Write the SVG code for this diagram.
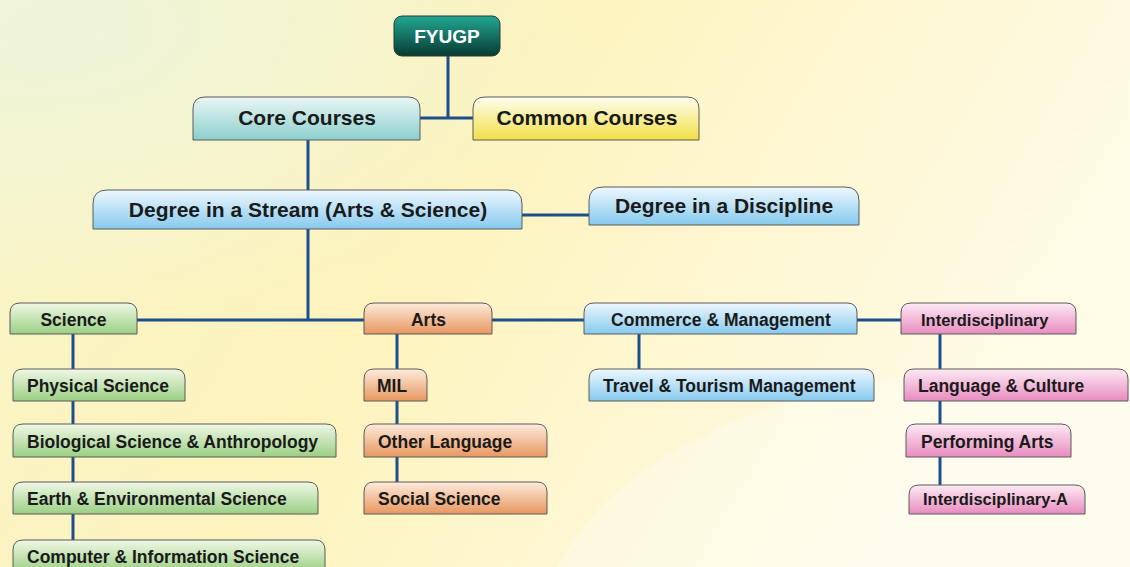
<svg xmlns="http://www.w3.org/2000/svg" width="1130" height="567" viewBox="0 0 1130 567">
<defs>
<linearGradient id="bg" x1="0" y1="0" x2="1" y2="0.3">
<stop offset="0" stop-color="#f8f5c8"/><stop offset="0.45" stop-color="#fdf3bd"/><stop offset="1" stop-color="#fefbe6"/>
</linearGradient>
<radialGradient id="bgTL" cx="0.05" cy="0.05" r="0.5">
<stop offset="0" stop-color="#eef5dc" stop-opacity="0.9"/><stop offset="1" stop-color="#eef5dc" stop-opacity="0"/>
</radialGradient>
<linearGradient id="gTeal" x1="0" y1="0" x2="0" y2="1"><stop offset="0" stop-color="#22a893"/><stop offset="1" stop-color="#083a31"/></linearGradient>
<linearGradient id="gCore" x1="0" y1="0" x2="0" y2="1"><stop offset="0" stop-color="#e9f7f5"/><stop offset="1" stop-color="#8ccfcd"/></linearGradient>
<linearGradient id="gYel" x1="0" y1="0" x2="0" y2="1"><stop offset="0" stop-color="#fffdf0"/><stop offset="1" stop-color="#f1e046"/></linearGradient>
<linearGradient id="gBlue" x1="0" y1="0" x2="0" y2="1"><stop offset="0" stop-color="#eef8fe"/><stop offset="1" stop-color="#86c9ee"/></linearGradient>
<linearGradient id="gGreen" x1="0" y1="0" x2="0" y2="1"><stop offset="0" stop-color="#f0f8e6"/><stop offset="1" stop-color="#9bcf84"/></linearGradient>
<linearGradient id="gOrange" x1="0" y1="0" x2="0" y2="1"><stop offset="0" stop-color="#fdebdc"/><stop offset="1" stop-color="#e8975f"/></linearGradient>
<linearGradient id="gPink" x1="0" y1="0" x2="0" y2="1"><stop offset="0" stop-color="#fdeaf4"/><stop offset="1" stop-color="#e88cbf"/></linearGradient>
</defs>
<style>
.ln{stroke:#1d4f8c;stroke-width:3;fill:none}
.bx{stroke:#5a5a5a;stroke-width:1}
.tb{font-family:"Liberation Sans",Arial,sans-serif;font-weight:bold;font-size:21px;fill:#1a1a1a}
.ts{font-family:"Liberation Sans",Arial,sans-serif;font-weight:bold;font-size:17.5px;fill:#1a1a1a}
.c{text-anchor:middle}
</style>
<rect width="1130" height="567" fill="url(#bg)"/>
<rect width="1130" height="567" fill="url(#bgTL)"/>
<ellipse cx="1010" cy="640" rx="470" ry="270" fill="#ffffff" opacity="0.3"/>
<g id="connectors">
<path class="ln" d="M448 56V118M420 118H473"/>
<path class="ln" d="M308 140V190"/>
<path class="ln" d="M522 215H589"/>
<path class="ln" d="M308 229V320M137 320H364M492 320H584M857 320H901"/>
<path class="ln" d="M73 334V540"/>
<path class="ln" d="M397 334V482"/>
<path class="ln" d="M639 334V369"/>
<path class="ln" d="M940 334V485"/>
</g>
<g id="fyugp"><rect x="394" y="16" width="106" height="40" rx="8" fill="url(#gTeal)" stroke="#2a3a36" stroke-width="1"/><text x="447" y="43" class="tb c" style="fill:#ffffff;font-size:19px">FYUGP</text></g>
<g id="core"><path class="bx" fill="url(#gCore)" d="M193 140V109Q193 97 205 97H408Q420 97 420 109V140Z"/><text x="307" y="125" class="tb c">Core Courses</text></g>
<g id="common"><path class="bx" fill="url(#gYel)" d="M473 140V109Q473 97 485 97H687Q699 97 699 109V140Z"/><text x="587" y="125" class="tb c">Common Courses</text></g>
<g id="stream"><path class="bx" fill="url(#gBlue)" d="M93 229V204Q93 190 107 190H508Q522 190 522 204V229Z"/><text x="308" y="217" class="tb c">Degree in a Stream (Arts &amp; Science)</text></g>
<g id="discipline"><path class="bx" fill="url(#gBlue)" d="M589 225V201Q589 187 603 187H845Q859 187 859 201V225Z"/><text x="724" y="213" class="tb c">Degree in a Discipline</text></g>
<g id="science"><path class="bx" fill="url(#gGreen)" d="M10 334V313Q10 303 20 303H127Q137 303 137 313V334Z"/><text x="73.5" y="326" class="ts c">Science</text></g>
<g id="physical"><path class="bx" fill="url(#gGreen)" d="M13 401V379Q13 369 23 369H175Q185 369 185 379V401Z"/><text x="27" y="392" class="ts">Physical Science</text></g>
<g id="biological"><path class="bx" fill="url(#gGreen)" d="M13 457V434Q13 424 23 424H326Q336 424 336 434V457Z"/><text x="27" y="448" class="ts">Biological Science &amp; Anthropology</text></g>
<g id="earth"><path class="bx" fill="url(#gGreen)" d="M13 514V492Q13 482 23 482H308Q318 482 318 492V514Z"/><text x="27" y="505" class="ts">Earth &amp; Environmental Science</text></g>
<g id="computer"><path class="bx" fill="url(#gGreen)" d="M13 572V550Q13 540 23 540H315Q325 540 325 550V572Z"/><text x="27" y="563" class="ts">Computer &amp; Information Science</text></g>
<g id="arts"><path class="bx" fill="url(#gOrange)" d="M364 334V313Q364 303 374 303H482Q492 303 492 313V334Z"/><text x="428.5" y="326" class="ts c">Arts</text></g>
<g id="mil"><path class="bx" fill="url(#gOrange)" d="M364 401V379Q364 369 374 369H417Q427 369 427 379V401Z"/><text x="377" y="392" class="ts">MIL</text></g>
<g id="otherlang"><path class="bx" fill="url(#gOrange)" d="M364 457V434Q364 424 374 424H537Q547 424 547 434V457Z"/><text x="378" y="448" class="ts">Other Language</text></g>
<g id="social"><path class="bx" fill="url(#gOrange)" d="M364 514V492Q364 482 374 482H537Q547 482 547 492V514Z"/><text x="378" y="505" class="ts">Social Science</text></g>
<g id="commerce"><path class="bx" fill="url(#gBlue)" d="M584 334V313Q584 303 594 303H847Q857 303 857 313V334Z"/><text x="721" y="326" class="ts c">Commerce &amp; Management</text></g>
<g id="travel"><path class="bx" fill="url(#gBlue)" d="M589 401V379Q589 369 599 369H864Q874 369 874 379V401Z"/><text x="603" y="392" class="ts">Travel &amp; Tourism Management</text></g>
<g id="interdisciplinary"><path class="bx" fill="url(#gPink)" d="M901 334V313Q901 303 911 303H1066Q1076 303 1076 313V334Z"/><text x="921" y="326" class="ts" style="font-size:16.5px">Interdisciplinary</text></g>
<g id="langculture"><path class="bx" fill="url(#gPink)" d="M904 401V379Q904 369 914 369H1118Q1128 369 1128 379V401Z"/><text x="918" y="392" class="ts">Language &amp; Culture</text></g>
<g id="performing"><path class="bx" fill="url(#gPink)" d="M906 457V434Q906 424 916 424H1061Q1071 424 1071 434V457Z"/><text x="921" y="448" class="ts">Performing Arts</text></g>
<g id="interA"><path class="bx" fill="url(#gPink)" d="M909 514V495Q909 485 919 485H1075Q1085 485 1085 495V514Z"/><text x="923" y="505" class="ts" style="font-size:16.5px">Interdisciplinary-A</text></g>
</svg>
